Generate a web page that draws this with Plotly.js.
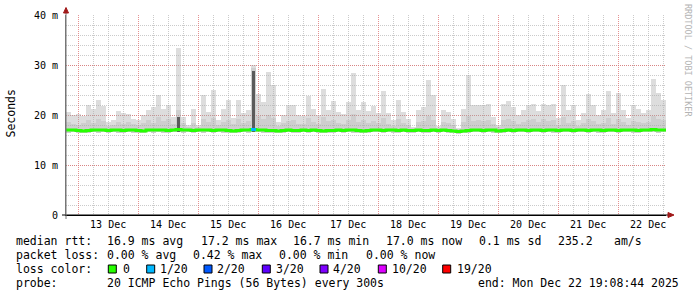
<!DOCTYPE html>
<html><head><meta charset="utf-8">
<script src="https://cdn.plot.ly/plotly-3.0.1.min.js"></script>
<style>html,body{margin:0;padding:0;background:#fff;}#chart{width:697px;height:297px;}</style>
</head><body><div id="chart"></div>
<script>
// ---- data ----
const startTime = Date.UTC(2025, 11, 12, 19, 8, 44);
const endTime = Date.UTC(2025, 11, 22, 19, 8, 44);
const bucketHours = 2;

const rttMax = [
 20.7,20.0,20.2,19.8,22.0,21.3,23.0,21.9,18.7,19.0,20.9,20.5,20.2,19.3,19.1,20.0,21.0,21.7,24.0,21.3,22.0,19.7,33.5,19.7,
 18.0,21.3,18.0,24.0,20.7,25.0,19.0,21.3,23.0,19.5,23.1,20.5,21.1,30.0,24.3,22.7,28.7,26.0,18.7,20.0,22.0,22.0,20.0,19.8,
 23.8,21.3,20.0,25.3,21.0,22.8,20.7,20.2,22.7,28.5,21.1,22.7,20.9,21.8,20.5,24.9,20.5,19.1,23.1,20.7,19.3,17.7,21.0,21.7,
 27.0,24.0,17.8,21.1,20.7,19.3,17.5,21.3,28.0,22.0,22.0,22.0,22.2,19.7,18.0,22.3,22.8,21.7,20.0,21.1,22.0,22.2,20.9,22.3,
 22.0,22.3,19.5,26.0,21.0,22.0,19.0,20.5,24.2,22.0,20.0,21.0,24.8,20.5,24.5,21.0,19.5,22.0,21.3,20.5,21.0,27.3,24.5,23.0
];
const rttMid = [
 18.6,18.2,18.0,18.4,19.0,18.5,19.2,18.8,17.9,18.1,18.6,18.3,18.7,18.2,18.0,18.5,19.0,18.4,19.6,18.8,19.2,18.3,21.0,18.4,
 17.6,18.4,17.7,19.3,18.6,19.5,18.0,18.7,19.0,18.2,19.2,18.5,18.9,29.5,19.8,19.2,20.0,19.5,17.8,18.4,18.9,19.0,18.2,18.3,
 19.4,18.6,18.2,19.6,18.8,19.1,18.4,18.3,19.0,20.2,18.7,19.1,18.5,18.9,18.4,19.5,18.3,17.9,19.2,18.5,18.0,17.4,18.6,18.9,
 19.8,19.0,17.5,18.6,18.4,18.0,17.3,18.6,19.9,18.9,19.0,18.8,19.1,18.2,17.6,19.0,19.3,18.8,18.3,18.7,19.0,19.2,18.6,19.2,
 18.8,19.0,18.1,19.6,18.5,18.9,17.9,18.4,19.3,18.8,18.2,18.5,19.4,18.3,19.2,18.6,18.1,18.9,18.7,18.4,18.6,19.8,19.3,19.1
];
const rttMin = [
 16.5,16.6,16.4,16.4,16.5,16.6,16.5,16.6,16.5,16.6,16.5,16.4,16.6,16.5,16.4,16.4,16.6,16.5,16.6,16.5,16.5,16.6,16.6,16.5,
 16.6,16.5,16.6,16.5,16.6,16.4,16.6,16.5,16.5,16.4,16.5,16.6,16.5,16.6,16.6,16.5,16.5,16.4,16.4,16.5,16.6,16.5,16.5,16.6,
 16.5,16.6,16.5,16.4,16.5,16.5,16.6,16.5,16.6,16.5,16.5,16.4,16.5,16.6,16.6,16.5,16.6,16.5,16.5,16.6,16.5,16.4,16.6,16.5,
 16.5,16.6,16.5,16.6,16.5,16.4,16.3,16.4,16.5,16.6,16.6,16.5,16.6,16.5,16.4,16.5,16.6,16.5,16.6,16.6,16.5,16.6,16.6,16.5,
 16.6,16.5,16.5,16.6,16.6,16.5,16.6,16.6,16.5,16.6,16.5,16.5,16.6,16.6,16.5,16.6,16.6,16.5,16.5,16.6,16.6,16.6,16.5,16.6
];
const rttMedian = [
 17.0,17.0,16.9,16.8,16.9,17.0,17.0,17.0,16.9,17.0,17.0,16.9,17.0,17.0,16.9,16.8,17.0,17.0,17.0,17.0,16.9,17.0,17.1,17.0,
 17.0,16.9,17.0,17.0,17.0,16.9,17.0,17.0,16.9,16.8,16.9,17.0,17.0,17.1,17.0,17.0,16.9,16.9,16.8,16.9,17.0,16.9,16.9,17.0,
 16.9,17.0,16.9,16.8,16.9,16.9,17.0,16.9,17.0,17.0,16.9,16.8,16.9,17.0,17.0,16.9,17.0,17.0,16.9,17.0,16.9,16.9,17.0,16.9,
 16.9,17.0,16.9,17.0,16.9,16.8,16.7,16.8,16.9,17.0,17.0,16.9,17.0,17.0,16.8,16.9,17.0,16.9,17.0,17.0,16.9,17.0,17.0,16.9,
 17.0,17.0,16.9,17.0,17.0,16.9,17.0,17.0,16.9,17.0,17.0,16.9,17.0,17.0,16.9,17.0,17.0,17.0,16.9,17.0,17.0,17.1,17.0,17.0
];
const coreBuckets = [22, 37];
const coreTop = [19.6, 28.8];
const lossBuckets = [37];
const lossPings = [1];

const lossLevels = [0, 1, 2, 3, 4, 10, 19];
const lossLabels = ["0", "1/20", "2/20", "3/20", "4/20", "10/20", "19/20"];
const lossColors = ["#26ff00", "#00b8ff", "#0059ff", "#5e00ff", "#7e00ff", "#dd00ff", "#ff0000"];

const yTickVals = [0, 10, 20, 30, 40];
const yTickText = ["0", "10 m", "20 m", "30 m", "40 m"];

const statRtt = ["median rtt:", "16.9 ms avg", "17.2 ms max", "16.7 ms min", "17.0 ms now", "0.1 ms sd", "235.2", "am/s"];
const statLoss = ["packet loss:", "0.00 % avg", "0.42 % max", "0.00 % min", "0.00 % now"];
const probeText = ["probe:", "20 ICMP Echo Pings (56 Bytes) every 300s", "end: Mon Dec 22 19:08:44 2025"];
const legendTitleLoss = "loss color:";
const yTitle = "Seconds";
const watermark = "RRDTOOL / TOBI OETIKER";

// ---- layout constants (pixel positions) ----
const PL = 66, PT = 15, PW = 600, PH = 200;
const posRtt = [16, 107.3, 200.7, 293.3, 385.7, 479.3, 558.3, 614];
const posLoss = [16, 107.3, 192.7, 279.3, 365.5];
const posProbe = [16, 107.3, 478.3];
const posSquares = [108.3, 146.7, 204, 262.3, 320, 378.3, 442.7];
const posSqLabels = [123.3, 160, 217.3, 275.7, 333.3, 392.3, 456.7];
const lineY = [241, 255, 269, 283];

const px2x = p => (p - PL) / PW;
const px2y = p => (PT + PH - p) / PH;
const MONO = 'DejaVu Sans Mono';

// ---- traces ----
const bucketMs = bucketHours * 3600000;
const n = rttMax.length;
const centers = rttMax.map((_, i) => startTime + (i + 0.5) * bucketMs);
const starts = rttMax.map((_, i) => startTime + i * bucketMs);

const traces = [];
traces.push({
  type: 'bar', x: centers, base: rttMin, y: rttMax.map((v, i) => v - rttMin[i]),
  width: bucketMs, marker: {color: 'rgba(170,170,170,0.4)', line: {width: 0}}, hoverinfo: 'skip'
});
traces.push({
  type: 'bar', x: centers, base: rttMin, y: rttMid.map((v, i) => v - rttMin[i]),
  width: bucketMs, marker: {color: 'rgba(150,150,150,0.2)', line: {width: 0}}, hoverinfo: 'skip'
});
traces.push({
  type: 'bar', x: coreBuckets.map(i => centers[i]), base: coreBuckets.map(i => rttMin[i]),
  y: coreBuckets.map((i, k) => coreTop[k] - rttMin[i]),
  width: bucketMs * 0.5, marker: {color: 'rgba(70,70,70,0.85)', line: {width: 0}}, hoverinfo: 'skip'
});
traces.push({
  type: 'scatter', mode: 'lines', x: starts.concat([endTime]), y: rttMedian.concat([rttMedian[n - 1]]),
  line: {shape: 'hv', width: 3, color: lossColors[0]}, hoverinfo: 'skip'
});
lossBuckets.forEach((b, k) => {
  let lvl = 0;
  lossLevels.forEach((L, j) => { if (lossPings[k] >= L) lvl = j; });
  traces.push({
    type: 'scatter', mode: 'lines', x: [starts[b], starts[b] + bucketMs], y: [rttMedian[b], rttMedian[b]],
    line: {width: 3, color: lossColors[lvl]}, hoverinfo: 'skip'
  });
});

// ---- annotations ----
const anns = [];
function ann(p, q, text, size, extra) {
  anns.push(Object.assign({
    xref: 'paper', yref: 'paper', x: px2x(p), y: px2y(q), text: text, showarrow: false,
    xanchor: 'left', yanchor: 'middle', borderpad: 0, borderwidth: 0,
    font: {family: MONO, size: size || 11.5, color: '#000'}
  }, extra || {}));
}
statRtt.forEach((t, i) => ann(posRtt[i], lineY[0], t));
statLoss.forEach((t, i) => ann(posLoss[i], lineY[1], t));
ann(16, lineY[2], legendTitleLoss);
lossLabels.forEach((t, i) => ann(posSqLabels[i], lineY[2], t));
probeText.forEach((t, i) => ann(posProbe[i], lineY[3], t));
ann(10, 113.5, yTitle, 11.5, {xanchor: 'center', textangle: -90});
ann(688, 60, watermark, 8.5, {xanchor: 'center', textangle: 90, font: {family: MONO, size: 8.5, color: '#b4b4b4'}});

// ---- shapes ----
const shapes = [];
posSquares.forEach((p, i) => shapes.push({
  type: 'rect', xref: 'paper', yref: 'paper', x0: px2x(p), x1: px2x(p + 8), y0: px2y(lineY[2] + 4), y1: px2y(lineY[2] - 4),
  fillcolor: lossColors[i], line: {color: '#000', width: 1}
}));
// axis extensions and arrows
shapes.push({type: 'line', xref: 'paper', yref: 'paper', x0: px2x(62), x1: px2x(669), y0: 0, y1: 0, line: {color: '#000', width: 1}});
shapes.push({type: 'line', xref: 'paper', yref: 'paper', x0: 0, x1: 0, y0: px2y(219), y1: px2y(12), line: {color: '#777', width: 1}});
const arrowR = [[668, 212.5], [674, 215], [668, 217.5]];
const arrowU = [[63.5, 13], [66, 7.5], [68.5, 13]];
const toPath = pts => 'M' + pts.map(p => px2x(p[0]) + ',' + px2y(p[1])).join(' L') + ' Z';
shapes.push({type: 'path', xref: 'paper', yref: 'paper', path: toPath(arrowR), fillcolor: '#a01818', line: {color: '#a01818', width: 1}});
shapes.push({type: 'path', xref: 'paper', yref: 'paper', path: toPath(arrowU), fillcolor: '#a01818', line: {color: '#a01818', width: 1}});

const majorGrid = 'rgba(220,110,110,0.75)';
const minorGrid = 'rgba(160,160,160,0.55)';
const layout = {
  width: 697, height: 297,
  margin: {l: PL, r: 697 - PL - PW, t: PT, b: 297 - PT - PH, pad: 0},
  paper_bgcolor: '#ffffff', plot_bgcolor: '#ffffff',
  showlegend: false, barmode: 'overlay', bargap: 0,
  font: {family: MONO, size: 10, color: '#000'},
  xaxis: {
    type: 'date', range: [startTime, endTime], tickmode: 'linear', tick0: '2025-12-13', dtick: 86400000,
    ticklabelmode: 'period', tickformat: '%d %b', ticks: '',
    showgrid: true, gridcolor: majorGrid, griddash: '1px,1px', gridwidth: 1,
    minor: {tickmode: 'linear', tick0: '2025-12-13', dtick: 21600000, showgrid: true, gridcolor: minorGrid, griddash: '1px,1px', gridwidth: 1},
    showline: true, linecolor: '#000', linewidth: 1, zeroline: false, fixedrange: true,
    tickfont: {family: MONO, size: 10, color: '#000'}
  },
  yaxis: {
    range: [0, 40], tickmode: 'array', tickvals: yTickVals, ticktext: yTickText, ticks: '',
    showgrid: true, gridcolor: majorGrid, griddash: '1px,1px', gridwidth: 1,
    minor: {tickmode: 'linear', tick0: 0, dtick: 2, showgrid: true, gridcolor: minorGrid, griddash: '1px,1px', gridwidth: 1},
    showline: true, linecolor: '#777', linewidth: 1, zeroline: false, fixedrange: true,
    ticklabelstandoff: 5,
    tickfont: {family: MONO, size: 10, color: '#000'}
  },
  shapes: shapes, annotations: anns
};
Plotly.newPlot('chart', traces, layout, {staticPlot: true, displayModeBar: false});
</script></body></html>
